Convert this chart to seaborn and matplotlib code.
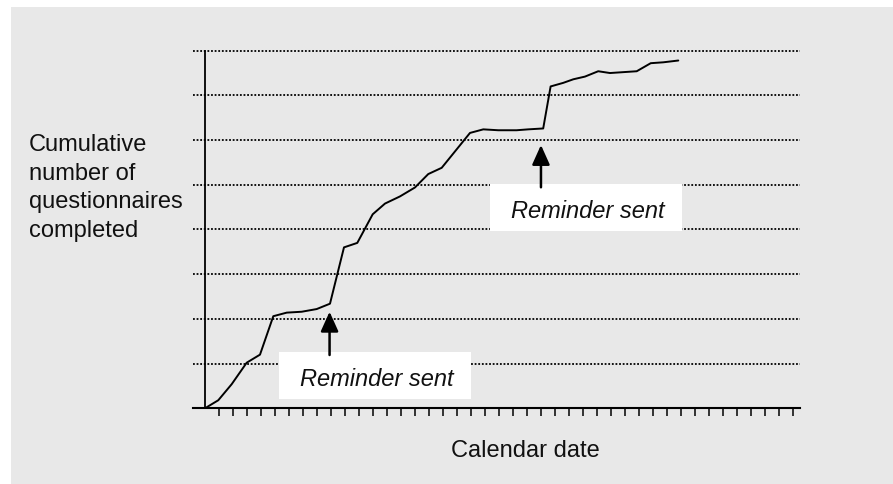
import seaborn as sns
import matplotlib.pyplot as plt
from matplotlib.patches import Rectangle

# cumulative returns (no units shown on the original)
days = [0, 0.95, 1.91, 2.98, 3.93, 4.88, 5.84, 6.91, 7.98, 8.93, 9.93, 10.88,
        11.98, 12.86, 13.93, 15.0, 15.95, 16.91, 18.93, 19.88, 20.95, 22.26,
        23.09, 24.16, 24.69, 25.59, 26.31, 27.14, 28.09, 28.93, 30.84, 31.84,
        32.74, 33.81]
completed = [0, 9, 27, 51, 60, 103, 107, 108, 111, 117, 180, 185, 217, 229,
             237, 247, 262, 269, 308, 312, 311, 311, 312, 313, 360, 364, 368,
             371, 377, 375, 377, 386, 387, 389]
reminder_days = [8.9, 24.0]
date_ticks = list(range(1, 43))
grid_levels = [50, 100, 150, 200, 250, 300, 350, 400]

sns.set_theme(style="white")
plt.rcParams['font.family'] = ['Liberation Sans', 'DejaVu Sans']

fig = plt.figure(figsize=(8.93, 4.85), dpi=100)
fig.patch.set_facecolor("white")
fig.add_artist(Rectangle((11 / 893, 0), 882 / 893, 477 / 485, transform=fig.transFigure,
                         facecolor="#e8e8e8", edgecolor="none", zorder=-1))
ax = fig.add_axes([0.2161, 0.1561, 0.6797, 0.7484])
ax.set_facecolor("none")

sns.lineplot(x=days, y=completed, color="black", linewidth=1.4, sort=False,
             estimator=None, ax=ax, zorder=3)

ax.set_xlim(-0.857, 42.5)
ax.set_ylim(0, 406)
ax.set_xticks(date_ticks)
ax.set_xticklabels([])
ax.set_yticks(grid_levels)
ax.set_yticklabels([])
ax.tick_params(axis="x", direction="out", length=5.8, width=1.1, color="black", bottom=True)
ax.tick_params(axis="y", length=0)
ax.yaxis.grid(True, color="black", linestyle=(0, (1, 1)), linewidth=1.3)
ax.xaxis.grid(False)
ax.set_xlabel("")
ax.set_ylabel("")

for side in ["top", "right"]:
    ax.spines[side].set_visible(False)
ax.spines["bottom"].set_color("black")
ax.spines["bottom"].set_linewidth(1.5)
ax.spines["left"].set_position(("data", 0))
ax.spines["left"].set_bounds(0, 400)
ax.spines["left"].set_color("black")
ax.spines["left"].set_linewidth(1.3)

# white boxes with the reminder notes
boxes = [(5.29, 10.4, 13.71, 52.9), (20.36, 198.7, 13.69, 52.2)]
text_pos = [(12.26, 26.4), (27.35, 213.6)]
arrow_y = [(59.6, 108), (247.2, 294.5)]
for (bx, by, bw, bh), (tx, ty), day, (y0, y1) in zip(boxes, text_pos, reminder_days, arrow_y):
    ax.add_patch(Rectangle((bx, by), bw, bh, facecolor="white", edgecolor="none", zorder=4))
    ax.text(tx, ty, "Reminder sent", ha="center", va="baseline", fontsize=17,
            fontstyle="italic", color="#111111", zorder=5)
    ax.annotate("", xy=(day, y1), xytext=(day, y0),
                arrowprops=dict(arrowstyle="-|>,head_length=1.0,head_width=0.45",
                                color="black", lw=1.8, shrinkA=0, shrinkB=0), zorder=5)

fig.text(29 / 893, 0.724, "Cumulative\nnumber of\nquestionnaires\ncompleted",
         ha="left", va="top", fontsize=17, color="#111111", linespacing=1.40)
fig.text(525 / 893, (485 - 457) / 485, "Calendar date", ha="center", va="baseline",
         fontsize=17, color="#111111")

fig.savefig("out.png", dpi=100)
